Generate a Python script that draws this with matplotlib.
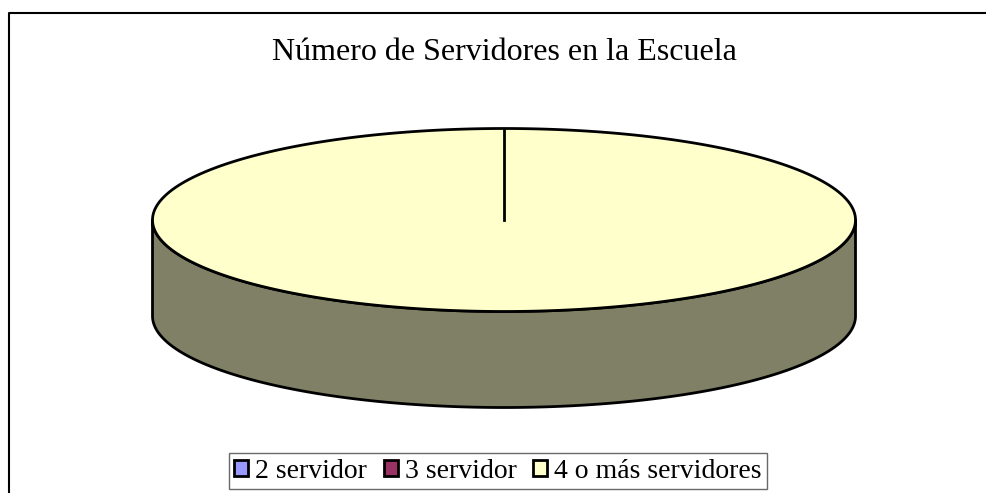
import matplotlib.pyplot as plt
import numpy as np
from matplotlib.patches import Polygon, Patch

# datos del grafico
categorias = ['2 servidor', '3 servidor', '4 o más servidores']
valores = [0, 0, 100]
colores = ['#9999FF', '#993366', '#FFFFCC']
color_lateral = '#808066'
titulo = 'Número de Servidores en la Escuela'

plt.rcParams['font.family'] = ['Liberation Serif', 'DejaVu Serif']

fig = plt.figure(figsize=(9.87, 4.93), dpi=100)
ax = fig.add_axes([0, 0, 1, 1])
ax.set_xlim(0, 987)
ax.set_ylim(493, 0)
ax.axis('off')

# marco del area del grafico (solo arriba e izquierda visibles)
ax.plot([8.5, 8.5, 987], [493, 12.5, 12.5], color='black', lw=1.5)

# geometria del pastel 3D
cx, cy = 504, 220
rx, ry = 351.5, 91.5
prof = 96


def punto(ang):
    # angulo en grados, 90 = arriba; y crece hacia abajo
    a = np.deg2rad(ang)
    return cx + rx * np.cos(a), cy - ry * np.sin(a)


# cara lateral (mitad frontal)
t = np.linspace(180, 360, 200)
xs, ys = punto(t)
lado = np.concatenate([np.column_stack([xs, ys]),
                       np.column_stack([xs[::-1], ys[::-1] + prof])])
ax.add_patch(Polygon(lado, closed=True, facecolor=color_lateral,
                     edgecolor='black', lw=2, joinstyle='round'))

# cara superior: porciones segun los valores
total = sum(valores)
inicio = 90
fracs = [v / total for v in valores]
acum = 0
for frac, col in zip(fracs, colores):
    if frac <= 0:
        continue
    a1 = inicio - acum * 360
    a2 = inicio - (acum + frac) * 360
    t = np.linspace(a1, a2, 400)
    xs, ys = punto(t)
    pts = np.column_stack([xs, ys])
    if frac < 1:
        pts = np.vstack([[cx, cy], pts])
    ax.add_patch(Polygon(pts, closed=True, facecolor=col,
                         edgecolor='black', lw=2))
    # linea radial en el borde de la porcion
    bx, by = punto(a1)
    ax.plot([cx, bx], [cy, by], color='black', lw=2)
    acum += frac

fig.text(504 / 987, 1 - 52 / 493, titulo, ha='center', va='center',
         fontsize=23)

handles = [Patch(facecolor=c, edgecolor='black', lw=2) for c in colores]
leg = fig.legend(handles, categorias, loc='center', ncol=3,
                 bbox_to_anchor=(498 / 987, 1 - 471 / 493),
                 fontsize=20, frameon=True, fancybox=False,
                 handlelength=0.5, handleheight=0.5, handletextpad=0.25,
                 columnspacing=0.6, borderpad=0.2, borderaxespad=0)
leg.get_frame().set_edgecolor('#444444')
leg.get_frame().set_linewidth(1)

plt.savefig('out.png', dpi=100)
